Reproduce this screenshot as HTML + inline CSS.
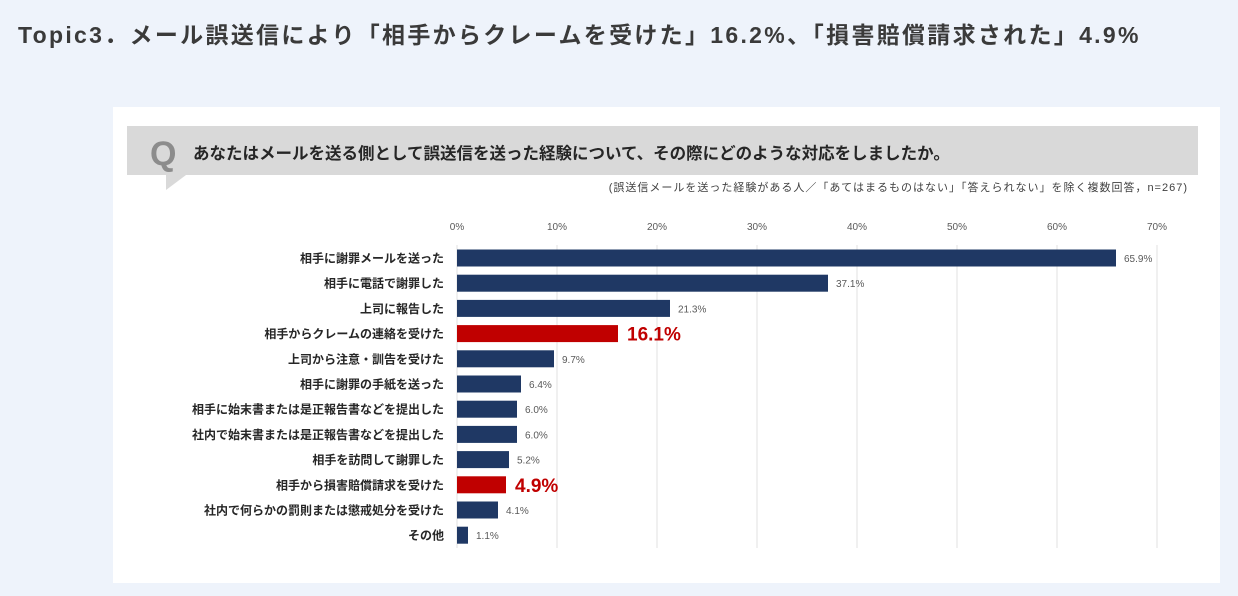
<!DOCTYPE html>
<html><head><meta charset="utf-8"><style>
body{margin:0;width:1238px;height:596px;background:#eef3fb;font-family:"Liberation Sans","Noto Sans CJK JP",sans-serif;position:relative;overflow:hidden}
.t{position:absolute;left:18px;top:16px;font-size:23px;font-weight:bold;color:#3a3a3a;white-space:nowrap;letter-spacing:2.3px}
.panel{position:absolute;left:113px;top:107px;width:1107px;height:476px;background:#fff}
</style></head><body>
<div class="t">Topic3．メール誤送信により「相手からクレームを受けた」16.2%、「損害賠償請求された」4.9%</div>
<div class="panel"></div>
<svg width="1238" height="596" style="position:absolute;left:0;top:0" font-family="Liberation Sans, Noto Sans CJK JP, sans-serif">
<rect x="127" y="126" width="1071" height="49" fill="#d9d9d9"/>
<polygon points="166,175 186,175 166,190" fill="#d9d9d9"/>
<text x="150" y="165" font-size="34" font-weight="bold" fill="#8c8c8c">Q</text>
<text x="193" y="159" font-size="16.5" font-weight="bold" fill="#262626">あなたはメールを送る側として誤送信を送った経験について、その際にどのような対応をしましたか。</text>
<text x="1188" y="191" font-size="11" fill="#404040" text-anchor="end" letter-spacing="1">(誤送信メールを送った経験がある人／「あてはまるものはない」「答えられない」を除く複数回答，n=267)</text>
<g font-size="10" fill="#595959" text-anchor="middle">
<text x="457" y="230">0%</text><text x="557" y="230">10%</text><text x="657" y="230">20%</text><text x="757" y="230">30%</text><text x="857" y="230">40%</text><text x="957" y="230">50%</text><text x="1057" y="230">60%</text><text x="1157" y="230">70%</text>
</g>
<g stroke="#e0e0e0" stroke-width="1">
<line x1="457" y1="245" x2="457" y2="548"/><line x1="557" y1="245" x2="557" y2="548"/><line x1="657" y1="245" x2="657" y2="548"/><line x1="757" y1="245" x2="757" y2="548"/><line x1="857" y1="245" x2="857" y2="548"/><line x1="957" y1="245" x2="957" y2="548"/><line x1="1057" y1="245" x2="1057" y2="548"/><line x1="1157" y1="245" x2="1157" y2="548"/>
</g>
<g id="bars"></g>
</svg>
<script>
var d=[["相手に謝罪メールを送った",65.9],["相手に電話で謝罪した",37.1],["上司に報告した",21.3],["相手からクレームの連絡を受けた",16.1,1],["上司から注意・訓告を受けた",9.7],["相手に謝罪の手紙を送った",6.4],["相手に始末書または是正報告書などを提出した",6.0],["社内で始末書または是正報告書などを提出した",6.0],["相手を訪問して謝罪した",5.2],["相手から損害賠償請求を受けた",4.9,1],["社内で何らかの罰則または懲戒処分を受けた",4.1],["その他",1.1]];
var g=document.getElementById('bars'),s='';
d.forEach(function(r,i){var cy=258+i*25.2,w=r[1]*10;
s+='<text x="444" y="'+(cy+4.5)+'" font-size="12" font-weight="bold" fill="#262626" text-anchor="end">'+r[0]+'</text>';
s+='<rect x="457" y="'+(cy-8.5)+'" width="'+w+'" height="17" fill="'+(r[2]?'#c00000':'#1f3864')+'"/>';
if(r[2])s+='<text x="'+(457+w+9)+'" y="'+(cy+7)+'" font-size="19" font-weight="bold" fill="#c00000">'+r[1].toFixed(1)+'%</text>';
else s+='<text x="'+(457+w+8)+'" y="'+(cy+4)+'" font-size="10" fill="#595959">'+r[1].toFixed(1)+'%</text>';});
g.innerHTML=s;
</script>
</body></html>
